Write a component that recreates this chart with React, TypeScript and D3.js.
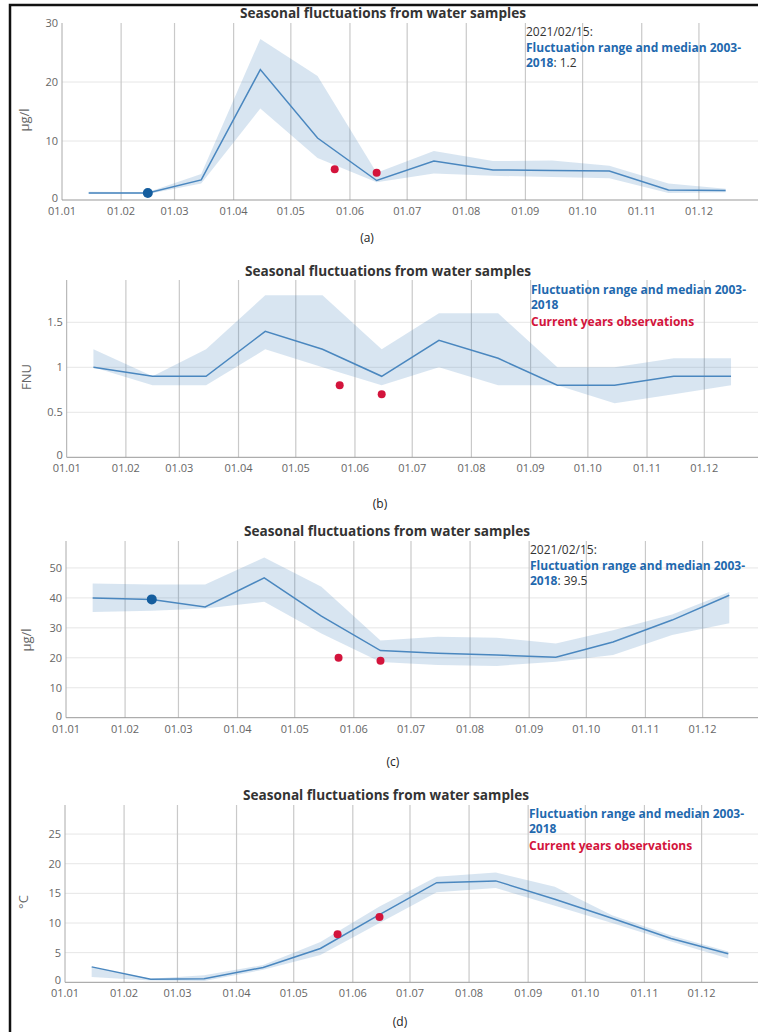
import React from "react";
import * as d3 from "d3";

// sample dates (median of each month) and month ticks
const sampleDates = ["2021-01-15", "2021-02-15", "2021-03-15", "2021-04-15", "2021-05-15", "2021-06-15",
  "2021-07-15", "2021-08-15", "2021-09-15", "2021-10-15", "2021-11-15", "2021-12-15"];
const monthTicks = ["2021-01-01", "2021-02-01", "2021-03-01", "2021-04-01", "2021-05-01", "2021-06-01",
  "2021-07-01", "2021-08-01", "2021-09-01", "2021-10-01", "2021-11-01", "2021-12-01"];
const obsDates = ["2021-05-24", "2021-06-15"];

// (a) chlorophyll µg/l
const aMedian = [1.2, 1.2, 3.4, 22.1, 10.5, 3.3, 6.6, 5.1, 5.0, 4.9, 1.7, 1.6];
const aLow = [1.0, 1.0, 2.8, 15.5, 7.1, 3.0, 4.5, 4.1, 3.9, 3.7, 1.2, 1.3];
const aHigh = [1.4, 1.3, 4.4, 27.3, 21.0, 4.6, 8.3, 6.6, 6.7, 5.8, 2.8, 1.9];
const aObs = [5.2, 4.6];
const aTicks = [0, 10, 20, 30];

// (b) turbidity FNU
const bMedian = [1.0, 0.9, 0.9, 1.4, 1.2, 0.9, 1.3, 1.1, 0.8, 0.8, 0.9, 0.9];
const bLow = [1.0, 0.8, 0.8, 1.2, 1.0, 0.8, 1.0, 0.8, 0.8, 0.6, 0.7, 0.8];
const bHigh = [1.2, 0.9, 1.2, 1.8, 1.8, 1.2, 1.6, 1.6, 1.0, 1.0, 1.1, 1.1];
const bObs = [0.8, 0.7];
const bTicks = [0, 0.5, 1, 1.5];

// (c) µg/l
const cMedian = [40, 39.5, 37, 46.7, 33.9, 22.4, 21.5, 20.9, 20.2, 25.3, 32.6, 40.9];
const cLow = [35.3, 35.7, 36.5, 38.7, 28.1, 18.6, 17.6, 17.3, 18.7, 20.9, 27.6, 31.5];
const cHigh = [44.8, 44.5, 44.5, 53.5, 43.7, 25.8, 27, 26.7, 24.8, 29.2, 34.5, 42];
const cObs = [20, 19];
const cTicks = [0, 10, 20, 30, 40, 50];

// (d) temperature °C
const dMedian = [2.6, 0.5, 0.6, 2.5, 5.7, 11.4, 16.8, 17.1, 14.0, 10.8, 7.4, 4.8];
const dLow = [0.9, 0.3, 0.2, 2.1, 4.6, 10.0, 15.2, 15.9, 12.9, 10.0, 6.9, 4.0];
const dHigh = [2.6, 0.6, 1.2, 2.9, 6.8, 12.8, 17.8, 18.5, 16.1, 11.3, 7.9, 5.2];
const dObs = [8.1, 11.0];
const dTicks = [0, 5, 10, 15, 20, 25];

const TITLE = "Seasonal fluctuations from water samples";
const FONT = "'Open Sans', 'DejaVu Sans', sans-serif";
const BLUE_TXT = "#1f69ae";
const RED = "#d3143c";

const parse = d3.utcParse("%Y-%m-%d");
const fmt = d3.utcFormat("%d.%m");

function Panel({ p }: { p: any }) {
  const x = d3.scaleUtc()
    .domain([parse("2021-01-01")!, parse("2022-01-01")!])
    .range([p.left, p.left + 365 * p.ppd]);
  const y = d3.scaleLinear().domain([0, p.yMax]).range([p.bottom, p.top]);

  const rows = sampleDates.map((d, i) => ({ date: parse(d)!, med: p.median[i], lo: p.low[i], hi: p.high[i] }));
  const area = d3.area<any>().x(d => x(d.date)).y0(d => y(d.lo)).y1(d => y(d.hi));
  const line = d3.line<any>().x(d => x(d.date)).y(d => y(d.med));

  return (
    <g fontFamily={FONT}>
      <text x={p.titleX} y={p.titleY} textAnchor="middle" fontSize={13.6} fontWeight="bold" fill="#333">{TITLE}</text>

      {/* horizontal grid, none at the very top */}
      {p.ticks.filter((t: number) => t > 0 && y(t) > p.top + 2).map((t: number) => (
        <line key={"h" + t} x1={p.left} x2={758} y1={y(t)} y2={y(t)} stroke="#e6e6e6" />
      ))}
      {/* vertical grid */}
      {monthTicks.slice(1).map(m => (
        <line key={"v" + m} x1={x(parse(m)!)} x2={x(parse(m)!)} y1={p.top} y2={p.bottom} stroke="#c9c9c9" strokeWidth={1.2} />
      ))}

      <path d={area(rows)!} fill="#4682be" fillOpacity={0.21} />
      <path d={line(rows)!} fill="none" stroke="#4a87bf" strokeWidth={1.5} />

      {/* axes */}
      <line x1={p.left} x2={p.left} y1={p.top} y2={p.bottom} stroke="#aaa" />
      <line x1={p.left} x2={758} y1={p.bottom} y2={p.bottom} stroke="#999" />

      {p.ticks.map((t: number) => (
        <text key={"yt" + t} x={p.left - 4} y={t === 0 ? y(t) + 2 : y(t) + 4} textAnchor="end" fontSize={11} fill="#666">{t}</text>
      ))}
      {monthTicks.map(m => (
        <text key={"xt" + m} x={x(parse(m)!)} y={p.bottom + 15} textAnchor="middle" fontSize={11} fill="#666">{fmt(parse(m)!)}</text>
      ))}

      <text transform={`translate(${p.yTitleX},${p.yTitleY}) rotate(-90)`} textAnchor="middle" fontSize={13} fill="#666">{p.unit}</text>

      {obsDates.map((d, i) => (
        <circle key={"o" + i} cx={x(parse(d)!)} cy={y(p.obs[i])} r={4} fill={RED} />
      ))}
      {p.hover != null && (
        <circle cx={x(rows[p.hover].date)} cy={y(rows[p.hover].med)} r={5} fill="#145d9e" />
      )}

      {p.hover != null ? (
        <text x={p.legX} y={p.legY} fontSize={12}>
          <tspan fill="#333">{sampleDates[p.hover].replace(/-/g, "/")}:</tspan>
          <tspan x={p.legX} dy={15.5} fill={BLUE_TXT} fontWeight="bold">Fluctuation range and median 2003-</tspan>
          <tspan x={p.legX} dy={15.5} fill={BLUE_TXT} fontWeight="bold">2018</tspan>
          <tspan fill="#333">: {p.median[p.hover]}</tspan>
        </text>
      ) : (
        <text x={p.legX} y={p.legY} fontSize={12} fontWeight="bold">
          <tspan fill={BLUE_TXT}>Fluctuation range and median 2003-</tspan>
          <tspan x={p.legX} dy={15.5} fill={BLUE_TXT}>2018</tspan>
          <tspan x={p.legX} dy={16.5} fill={RED}>Current years observations</tspan>
        </text>
      )}

      <text x={p.capX} y={p.capY} textAnchor="middle" fontSize={12} fill="#222">{p.caption}</text>
    </g>
  );
}

const panels = [
  { median: aMedian, low: aLow, high: aHigh, obs: aObs, ticks: aTicks, yMax: 30, unit: "µg/l", caption: "(a)", hover: 1,
    left: 62, ppd: 1.907, top: 23, bottom: 200, titleX: 383, titleY: 18, yTitleX: 29, yTitleY: 120,
    legX: 526, legY: 36, capX: 367, capY: 242 },
  { median: bMedian, low: bLow, high: bHigh, obs: bObs, ticks: bTicks, yMax: 1.97, unit: "FNU", caption: "(b)", hover: null,
    left: 66.7, ppd: 1.909, top: 280, bottom: 457.3, titleX: 388, titleY: 275.5, yTitleX: 31, yTitleY: 377,
    legX: 531, legY: 293.5, capX: 380, capY: 508 },
  { median: cMedian, low: cLow, high: cHigh, obs: cObs, ticks: cTicks, yMax: 59, unit: "µg/l", caption: "(c)", hover: 1,
    left: 66, ppd: 1.906, top: 541, bottom: 717.7, titleX: 387, titleY: 536, yTitleX: 31, yTitleY: 640,
    legX: 530, legY: 554, capX: 393, capY: 766 },
  { median: dMedian, low: dLow, high: dHigh, obs: dObs, ticks: dTicks, yMax: 29.9, unit: "°C", caption: "(d)", hover: null,
    left: 65, ppd: 1.906, top: 805, bottom: 982.3, titleX: 386, titleY: 800, yTitleX: 28, yTitleY: 902,
    legX: 529, legY: 817.5, capX: 400, capY: 1026 },
];

export default function App() {
  return (
    <div style={{ position: "absolute", left: 0, top: 0 }}>
      <svg width={758} height={1032} style={{ display: "block", background: "#fff" }}>
        <rect width={758} height={1032} fill="#fff" />
        {panels.map((p, i) => <Panel key={i} p={p} />)}
        {/* frame */}
        <path d="M10,1032 V5 H758" fill="none" stroke="#111" strokeWidth={2.5} />
      </svg>
    </div>
  );
}
